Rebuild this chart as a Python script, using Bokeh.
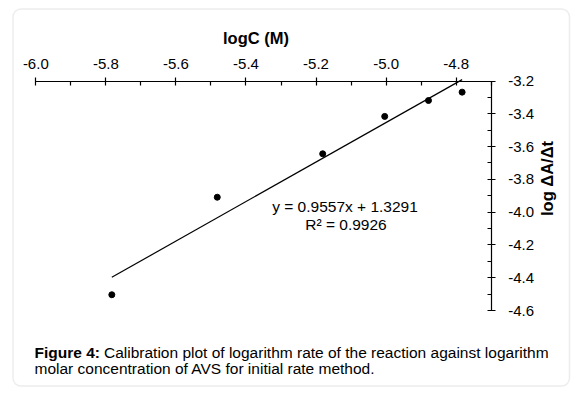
import numpy as np
from bokeh.plotting import figure
from bokeh.models import (FixedTicker, CustomJSTickFormatter, Label, BoxAnnotation,
                          ColumnDataSource)
from bokeh.embed import file_html
from bokeh.resources import INLINE

# ---- data ----
log_c = [-5.783, -5.482, -5.181, -5.004, -4.879, -4.783]
log_rate = [-4.504, -3.909, -3.644, -3.416, -3.319, -3.268]
x_ticks = [-6.0, -5.8, -5.6, -5.4, -5.2, -5.0, -4.8]
x_minor = [-5.9, -5.7, -5.5, -5.3, -5.1, -4.9, -4.7]
y_ticks = [-3.2, -3.4, -3.6, -3.8, -4.0, -4.2, -4.4, -4.6]
y_minor = [-3.3, -3.5, -3.7, -3.9, -4.1, -4.3, -4.5]
equation = "y = 0.9557x + 1.3291"
r_squared = "R\u00b2 = 0.9926"
x_title = "logC (M)"
y_title = "log \u0394A/\u0394t"
caption_bold = "Figure 4:"
caption_1 = "Calibration plot of logarithm rate of the reaction against logarithm"
caption_2 = "molar concentration of AVS for initial rate method."

FONT = "Liberation Sans"
W, H = 572, 390
# axis extents
AX0, AX1 = -6.0, -4.7
AY0, AY1 = -4.6, -3.2
# pixel layout of the axes box (canvas px)
PL, PR, PT, PB = 35.3, 490.7, 80.5, 310.0
sx = (PR - PL) / (AX1 - AX0)
sy = (PB - PT) / (AY1 - AY0)

p = figure(width=W, height=H,
           x_range=(AX0 - PL / sx, AX0 + (W - PL) / sx),
           y_range=(AY1 - (H - PT) / sy, AY1 + PT / sy),
           x_axis_location="above", y_axis_location="right",
           output_backend="svg", toolbar_location=None,
           min_border=0)
p.grid.visible = False
p.outline_line_color = None
p.background_fill_color = "white"
p.border_fill_color = "white"

def px2x(px):
    return AX0 + (px - PL) / sx

def px2y(py):
    return AY1 - (py - PT) / sy

fmt = CustomJSTickFormatter(code="return tick.toFixed(1);")
for ax, t, m, loc, bnd in ((p.xaxis[0], x_ticks, x_minor, AY1, (AX0, AX1)),
                           (p.yaxis[0], y_ticks, y_minor, AX1, (AY0, AY1))):
    ax.ticker = FixedTicker(ticks=t, minor_ticks=m)
    ax.formatter = fmt
    ax.fixed_location = loc
    ax.bounds = bnd
    ax.axis_line_color = "black"
    ax.axis_line_width = 1.2
    ax.major_tick_line_color = "black"
    ax.minor_tick_line_color = "black"
    ax.major_tick_line_width = 1.2
    ax.minor_tick_line_width = 1.2
    ax.major_tick_in = 4
    ax.major_tick_out = 4
    ax.minor_tick_in = 4
    ax.minor_tick_out = 0
    ax.major_label_text_font = FONT
    ax.major_label_text_font_size = "15px"
    ax.major_label_text_color = "black"
p.xaxis.major_label_standoff = 8
p.yaxis.major_label_standoff = 13

src = ColumnDataSource(dict(x=log_c, y=log_rate))
slope, icpt = np.polyfit(log_c, log_rate, 1)
fx = [min(log_c), max(log_c)]
fy = [slope * v + icpt for v in fx]
p.line(fx, fy, line_color="black", line_width=1.2)
p.scatter("x", "y", source=src, size=6, color="black")

def lab(text, x, y, size="15.5px", style="normal", align="left", baseline="alphabetic", angle=0):
    p.add_layout(Label(x=x, y=y, text=text, text_font=FONT, text_font_size=size,
                       text_font_style=style, text_align=align, text_baseline=baseline,
                       angle=angle, text_color="black"))

lab(equation, px2x(344.5), px2y(206), align="center", baseline="middle")
lab(r_squared, px2x(345.5), px2y(223.5), align="center", baseline="middle")
lab(x_title, px2x(255.5), px2y(37.7), size="16.5px", style="bold", align="center")
lab(y_title, px2x(546), px2y(178), size="16.5px", style="bold", align="center",
    baseline="middle", angle=np.pi / 2)
lab(caption_bold, px2x(34), px2y(351.7), style="bold")
lab(caption_1, px2x(103.5), px2y(351.7))
lab(caption_2, px2x(34), px2y(367.7))

p.add_layout(BoxAnnotation(left=px2x(12.5), right=px2x(569), top=px2y(8.5), bottom=px2y(385.5),
                           fill_color=None, line_color="#c4c4c4", line_width=1.5,
                           border_radius=8))

open("out.html", "w").write(file_html(p, INLINE))
